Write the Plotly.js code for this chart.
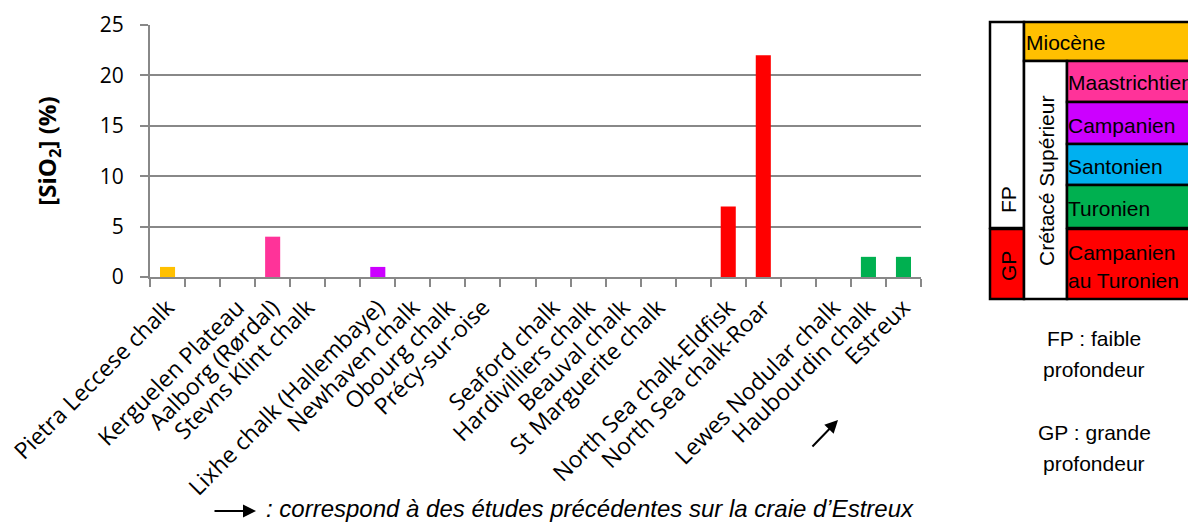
<!DOCTYPE html>
<html>
<head>
<meta charset="utf-8">
<script src="https://cdn.plot.ly/plotly-3.0.1.min.js"></script>
<style>html,body{margin:0;padding:0;background:#fff;}#chart{width:1188px;height:524px;}</style>
</head>
<body>
<div id="chart"></div>
<script>
// ---- data ----
const sites = [
  "Pietra Leccese chalk", " ", "Kerguelen Plateau", "Aalborg (Rørdal)", "Stevns Klint chalk",
  "  ", "Lixhe chalk (Hallembaye)", "Newhaven chalk", "Obourg chalk", "Précy-sur-oise",
  "   ", "Seaford chalk", "Hardivilliers chalk", "Beauval chalk", "St Marguerite chalk",
  "    ", "North Sea chalk-Eldfisk", "North Sea chalk-Roar", "     ", "Lewes Nodular chalk",
  "Haubourdin chalk", "Estreux"
];
const sio2 = [1, null, null, 4, null, null, 1, null, null, null, null, null, null, null, null, null, 7, 22, null, null, 2, 2];
const stage = ["Miocène", "", "", "Maastrichtien", "", "", "Campanien", "", "", "", "", "", "", "", "", "", "GP", "GP", "", "", "Turonien", "Turonien"];
const stageColors = {"Miocène":"#FFC000","Maastrichtien":"#FF3399","Campanien":"#CC00FF","Santonien":"#00B0F0","Turonien":"#00B050","GP":"#FF0000","":"#FFFFFF"};
const yTicks = [0, 5, 10, 15, 20, 25];

// ---- geometry helpers (pixel -> paper) ----
const W = 1188, H = 524;
const M = {l:150, r:267, t:25, b:247};
const PW = W - M.l - M.r, PH = H - M.t - M.b;
const px = x => (x - M.l) / PW;
const py = y => (H - M.b - y) / PH;

const barColors = stage.map(s => stageColors[s]);

const trace = {
  type: 'bar', x: sites, y: sio2,
  marker: {color: barColors, line: {width: 0}},
  hoverinfo: 'x+y'
};

const shapes = [];
function box(x0, y0, x1, y1, fill) {
  shapes.push({type:'rect', xref:'paper', yref:'paper', x0:px(x0), x1:px(x1), y0:py(y1), y1:py(y0),
    fillcolor: fill, line:{color:'#000', width:2.5}, layer:'above'});
}
box(990, 22, 1024, 228, '#FFFFFF');
box(990, 229, 1024, 299, stageColors.GP);
box(1024, 22, 1210, 61, stageColors["Miocène"]);
box(1024, 61, 1067, 299, '#FFFFFF');
box(1067, 61, 1210, 102, stageColors.Maastrichtien);
box(1067, 102, 1210, 144, stageColors.Campanien);
box(1067, 144, 1210, 185, stageColors.Santonien);
box(1067, 185, 1210, 228, stageColors.Turonien);
box(1067, 229, 1210, 299, stageColors.GP);

const LF = {family:'Liberation Sans, Arial, sans-serif', size:21, color:'#000'};
const annotations = [];
function txt(x, y, t, opts) {
  annotations.push(Object.assign({xref:'paper', yref:'paper', x:px(x), y:py(y), text:t, showarrow:false,
    xanchor:'left', yanchor:'middle', font:LF}, opts || {}));
}
txt(1024, 42, 'Miocène');
txt(1066, 82, 'Maastrichtien');
txt(1066, 125, 'Campanien');
txt(1066, 166, 'Santonien');
txt(1066, 208, 'Turonien');
txt(1066, 252, 'Campanien');
txt(1066, 280, 'au Turonien');
txt(1008, 200, 'FP', {xanchor:'center', textangle:-90});
txt(1008, 266, 'GP', {xanchor:'center', textangle:-90});
txt(1046, 181, 'Crétacé Supérieur', {xanchor:'center', textangle:-90});
txt(1094, 338, 'FP : faible', {xanchor:'center'});
txt(1094, 369, 'profondeur', {xanchor:'center'});
txt(1094, 432, 'GP : grande', {xanchor:'center'});
txt(1094, 463, 'profondeur', {xanchor:'center'});

// arrow near Estreux
annotations.push({xref:'paper', yref:'paper', x:px(838), y:py(420), ax:-27, ay:28, text:'',
  showarrow:true, arrowhead:2, arrowsize:1.3, arrowwidth:2, arrowcolor:'#000', standoff:0});
// caption arrow
annotations.push({xref:'paper', yref:'paper', x:px(256), y:py(511), ax:-43, ay:0, text:'',
  showarrow:true, arrowhead:2, arrowsize:1.3, arrowwidth:2, arrowcolor:'#000', standoff:0});
txt(264, 509, '<i>: correspond à des études précédentes sur la craie d’Estreux</i>',
  {font:{family:'Liberation Sans, Arial, sans-serif', size:24, color:'#000'}});

const layout = {
  width: W, height: H,
  margin: M,
  paper_bgcolor: '#fff', plot_bgcolor: '#fff',
  showlegend: false,
  bargap: 0.57,
  font: {family:'Open Sans, sans-serif', color:'#000'},
  xaxis: {
    type:'category', categoryorder:'array', categoryarray: sites,
    tickangle:-45, tickson:'boundaries', ticks:'outside', ticklen:8, tickcolor:'#888', tickwidth:2,
    showline:true, linecolor:'#888', linewidth:2, showgrid:false, zeroline:false,
    tickfont:{family:'Open Sans, sans-serif', size:23, color:'#000'}, ticklabelstandoff:6, automargin:false
  },
  yaxis: {
    range:[0,25], tickvals: yTicks, ticks:'outside', ticklen:8, tickcolor:'#888', tickwidth:2,
    showline:true, linecolor:'#888', linewidth:2, gridcolor:'#888', gridwidth:2, zeroline:false,
    tickfont:{family:'Open Sans, sans-serif', size:21, color:'#000'}, ticklabelstandoff:12,
    title:{text:'<b>[SiO<sub>2</sub>] (%)</b>', font:{family:'Open Sans, sans-serif', size:24, color:'#000'}, standoff:36},
    automargin:false
  },
  shapes: shapes,
  annotations: annotations
};

Plotly.newPlot('chart', [trace], layout, {displayModeBar:false, staticPlot:true});
</script>
</body>
</html>
